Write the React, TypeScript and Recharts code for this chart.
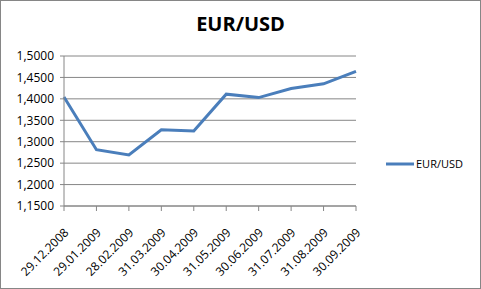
import { LineChart, Line, XAxis, YAxis, CartesianGrid, Legend } from 'recharts';

const dates = [
  '29.12.2008', '29.01.2009', '28.02.2009', '31.03.2009', '30.04.2009',
  '31.05.2009', '30.06.2009', '31.07.2009', '31.08.2009', '30.09.2009',
];
const eurUsd = [1.4043, 1.2814, 1.2690, 1.3280, 1.3250, 1.4110, 1.4030, 1.4240, 1.4350, 1.4640];
const yTicks = [1.15, 1.2, 1.25, 1.3, 1.35, 1.4, 1.45, 1.5];

const data = dates.map((d, i) => ({ date: d, value: eurUsd[i] }));

const FONT = '"Open Sans", sans-serif';
const GRID = '#868686';
const BLUE = '#4a7ebb';

function DateTick({ x, y, payload }: { x?: number; y?: number; payload?: { value: string } }) {
  return (
    <text
      x={0}
      y={0}
      transform={`translate(${(x ?? 0) - 2},${(y ?? 0) + 13}) rotate(-45)`}
      textAnchor="end"
      dominantBaseline="hanging"
      fontSize={12}
      fontFamily={FONT}
      fill="#000"
    >
      {payload?.value}
    </text>
  );
}

function LegendBox() {
  return (
    <div style={{ display: 'flex', alignItems: 'center', fontFamily: FONT, fontSize: 11, color: '#000' }}>
      <svg width={30} height={6}>
        <line x1={0} y1={3} x2={28} y2={3} stroke={BLUE} strokeWidth={3} />
      </svg>
      <span>EUR/USD</span>
    </div>
  );
}

export default function App() {
  return (
    <div style={{ position: 'fixed', left: 0, top: 0, width: 481, height: 289, background: '#fff' }}>
      <div
        style={{
          position: 'absolute', left: 0, top: 0, width: 479, height: 287,
          border: `1px solid ${GRID}`,
        }}
      />
      <div
        style={{
          position: 'absolute', left: 0, top: 10, width: 481, textAlign: 'center',
          fontFamily: FONT, fontWeight: 700, fontSize: 20, color: '#000',
        }}
      >
        EUR/USD
      </div>
      <LineChart
        width={481}
        height={289}
        data={data}
        margin={{ top: 56, right: 30, bottom: 0, left: 0 }}
      >
        <CartesianGrid vertical={false} stroke={GRID} />
        <XAxis
          dataKey="date"
          tick={<DateTick />}
          interval={0}
          stroke={GRID}
          tickSize={5}
          height={83}
        />
        <YAxis
          domain={[1.15, 1.5]}
          ticks={yTicks}
          interval={0}
          width={64}
          stroke={GRID}
          tickSize={4}
          tickMargin={6}
          tickFormatter={(v: number) => v.toFixed(4).replace('.', ',')}
          tick={{ fontSize: 12, fontFamily: FONT, fill: '#000' }}
        />
        <Legend
          layout="vertical"
          align="right"
          verticalAlign="middle"
          content={<LegendBox />}
          wrapperStyle={{ position: 'absolute', left: 386, top: 156, width: 95 }}
        />
        <Line
          dataKey="value"
          name="EUR/USD"
          stroke={BLUE}
          strokeWidth={3}
          dot={false}
          isAnimationActive={false}
        />
      </LineChart>
    </div>
  );
}
